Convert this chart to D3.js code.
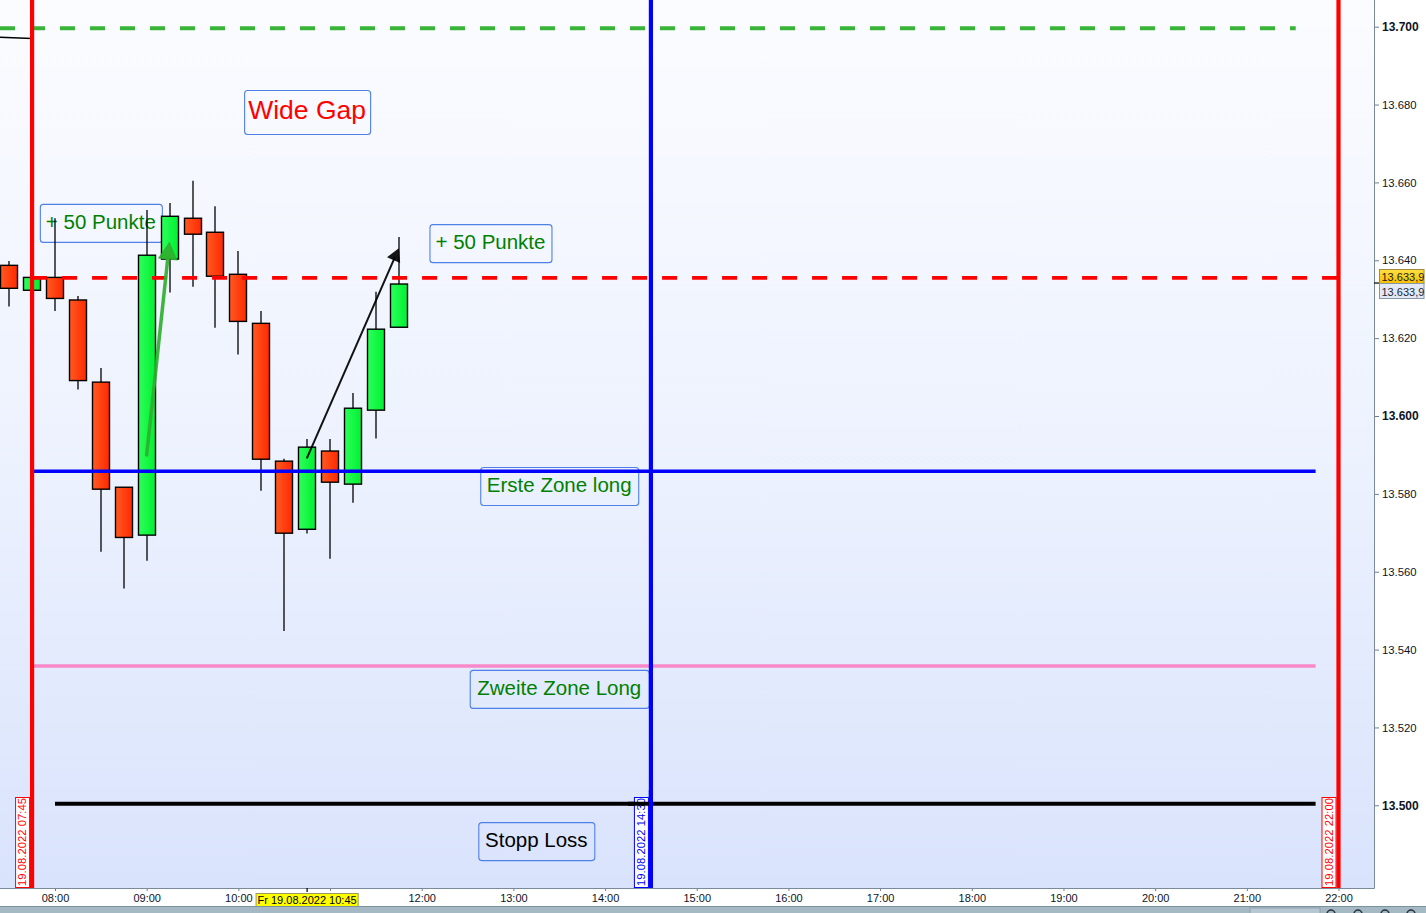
<!DOCTYPE html>
<html><head><meta charset="utf-8">
<script src="https://cdn.jsdelivr.net/npm/d3@7"></script>
<style>
html,body{margin:0;padding:0;background:#fff;overflow:hidden}
svg{display:block;font-family:"Liberation Sans",Arial,sans-serif}
</style></head><body>
<svg id="c" width="1426" height="913"></svg>
<script>
// ---- data ----
const times  = ["07:30","07:45","08:00","08:15","08:30","08:45","09:00","09:15","09:30","09:45","10:00","10:15","10:30","10:45","11:00","11:15","11:30","11:45"];
const opens  = [13638.7,13632.3,13635.6,13629.8,13608.7,13581.7,13569.4,13640.3,13650.8,13647.2,13636.4,13623.8,13588.4,13570.9,13591.0,13582.5,13601.5,13622.8];
const highs  = [13639.8,13636.0,13650.8,13630.8,13612.3,13581.7,13652.9,13654.7,13660.4,13653.9,13642.4,13627.0,13589.0,13594.1,13594.1,13605.9,13631.9,13646.0];
const lows   = [13628.1,13632.0,13627.0,13606.8,13565.1,13555.7,13562.8,13631.7,13633.2,13622.7,13615.8,13580.8,13544.8,13569.8,13563.3,13577.7,13594.2,13622.8];
const closes = [13632.8,13635.6,13630.2,13609.1,13581.2,13568.8,13641.3,13651.3,13646.7,13635.9,13624.3,13588.9,13569.9,13592.0,13583.0,13602.0,13622.3,13633.9];

const priceTicks = [13500,13520,13540,13560,13580,13600,13620,13640,13660,13680,13700];
const timeTicks  = ["08:00","09:00","10:00","11:00","12:00","13:00","14:00","15:00","16:00","17:00","18:00","19:00","20:00","21:00","22:00"];

const levels = [
  {name:"gap",   value:13699.6, from:"07:24", to:"21:32", color:"#38b438", dash:"15,15", w:3.8},
  {name:"close", value:13635.5, from:"07:45", to:"22:00", color:"#ff0000", dash:"15,15", w:3.8},
  {name:"zone1", value:13585.8, from:"07:45", to:"21:45", color:"#0000ff", dash:null,   w:3.6},
  {name:"zone2", value:13535.8, from:"07:45", to:"21:45", color:"#f988c8", dash:null,   w:3.6},
  {name:"stop",  value:13500.4, from:"08:00", to:"21:45", color:"#000000", dash:null,   w:4}
];
const vlines = [
  {time:"07:45", color:"#ff0000", label:"19.08.2022 07:45"},
  {time:"14:30", color:"#0000ff", label:"19.08.2022 14:30"},
  {time:"22:00", color:"#ff0000", label:"19.08.2022 22:00"}
];
const notes = [
  {text:"Wide Gap",          time:"10:45", value:13678.1, color:"#ff0000", size:26.5, boxW:126, boxH:44},
  {text:"+ 50 Punkte",       time:"08:30", value:13649.6, color:"#008000", size:20.5, boxW:122, boxH:38},
  {text:"+ 50 Punkte",       time:"12:45", value:13644.4, color:"#008000", size:20.5, boxW:122, boxH:38},
  {text:"Erste Zone long",   time:"13:30", value:13582.0, color:"#008000", size:20.5, boxW:158, boxH:38},
  {text:"Zweite Zone Long",  time:"13:30", value:13529.9, color:"#008000", size:20.5, boxW:179, boxH:38},
  {text:"Stopp Loss",        time:"13:15", value:13490.8, color:"#000000", size:20.5, boxW:116, boxH:38}
];
const arrows = [
  {t0:"09:00", v0:13590.0, t1:"09:15", v1:13644.8, color:"#2fb02f", w:3.5, head:18},
  {t0:"10:45", v0:13589.3, t1:"11:45", v1:13643.1, color:"#000000", w:2,   head:13}
];
const trendSeg = {t0:"07:24", v0:13697.3, t1:"07:45", v1:13697.0};
const lastPrice = 13633.9;
const crossTime = "10:45";

// ---- setup ----
const W = 1426, H = 913, plotR = 1374, plotB = 888;
const T = s => { const [h,m] = s.split(":").map(Number); return new Date(2022,7,19,h,m); };
const x = d3.scaleTime().domain([T("08:00"), T("22:00")]).range([55, 1338.5]);
const y = d3.scaleLinear().domain([13500, 13700]).range([805.3, 26.7]);
const candleW = 17;

const svg = d3.select("#c");
const defs = svg.append("defs");
const bg = defs.append("linearGradient").attr("id","bg").attr("x1",0).attr("y1",0).attr("x2",0).attr("y2",1);
bg.append("stop").attr("offset","0%").attr("stop-color","#fbfcff");
bg.append("stop").attr("offset","50%").attr("stop-color","#edf2fe");
bg.append("stop").attr("offset","100%").attr("stop-color","#d9e3fc");
const gr = defs.append("linearGradient").attr("id","gUp");
gr.append("stop").attr("offset","0%").attr("stop-color","#2dff5a");
gr.append("stop").attr("offset","100%").attr("stop-color","#00f032");
const rd = defs.append("linearGradient").attr("id","gDn");
rd.append("stop").attr("offset","0%").attr("stop-color","#ff5a22");
rd.append("stop").attr("offset","100%").attr("stop-color","#ff2800");
const yl = defs.append("linearGradient").attr("id","gYel").attr("x1",0).attr("y1",0).attr("x2",0).attr("y2",1);
yl.append("stop").attr("offset","0%").attr("stop-color","#ffe040");
yl.append("stop").attr("offset","100%").attr("stop-color","#f5c000");
defs.append("clipPath").attr("id","clip").append("rect").attr("x",0).attr("y",0).attr("width",plotR).attr("height",plotB);

svg.append("rect").attr("width",W).attr("height",H).attr("fill","#ffffff");
svg.append("rect").attr("x",0).attr("y",0).attr("width",plotR).attr("height",plotB).attr("fill","url(#bg)");

const plot = svg.append("g").attr("clip-path","url(#clip)");

// annotation boxes (behind candles)
const noteG = plot.append("g");
notes.forEach(n => {
  const cx = x(T(n.time)), cy = y(n.value);
  noteG.append("rect").attr("x", cx - n.boxW/2 + 0.5).attr("y", cy - n.boxH/2 + 0.5)
    .attr("width", n.boxW).attr("height", n.boxH).attr("rx",3)
    .attr("fill","none").attr("stroke","#4f80e8").attr("stroke-width",1.1);
  noteG.append("text").attr("x", cx).attr("y", cy - 1.5)
    .attr("text-anchor","middle").attr("dominant-baseline","central")
    .attr("font-size", n.size).attr("fill", n.color).text(n.text);
});

// candles
const cg = plot.append("g");
times.forEach((tm,i) => {
  const cx = Math.round(x(T(tm))) ;
  const up = closes[i] >= opens[i];
  cg.append("line").attr("x1",cx).attr("x2",cx).attr("y1",y(highs[i])).attr("y2",y(lows[i]))
    .attr("stroke","#000").attr("stroke-width",1.3);
  const top = y(Math.max(opens[i],closes[i])), bot = y(Math.min(opens[i],closes[i]));
  cg.append("rect").attr("x",cx - candleW/2).attr("y",top).attr("width",candleW).attr("height",Math.max(1,bot-top))
    .attr("fill", up ? "url(#gUp)" : "url(#gDn)").attr("stroke","#000").attr("stroke-width",1.4);
});

// trend segment top-left
plot.append("line").attr("x1",x(T(trendSeg.t0))).attr("y1",y(trendSeg.v0))
  .attr("x2",x(T(trendSeg.t1))).attr("y2",y(trendSeg.v1)).attr("stroke","#000").attr("stroke-width",1.5);

// horizontal levels
levels.forEach(l => {
  plot.append("line").attr("x1",x(T(l.from))).attr("x2",x(T(l.to))).attr("y1",y(l.value)).attr("y2",y(l.value))
    .attr("stroke",l.color).attr("stroke-width",l.w).attr("stroke-dasharray",l.dash);
});

// vertical lines with labels
vlines.forEach(v => {
  const vx = x(T(v.time));
  const lg = svg.append("g");
  lg.append("rect").attr("x",vx-16.5).attr("y",797.5).attr("width",14).attr("height",90)
    .attr("fill","#ffffff").attr("stroke",v.color).attr("stroke-width",1);
  lg.append("text").attr("transform",`translate(${vx-6},886) rotate(-90)`)
    .attr("font-size",11.3).attr("fill",v.color).text(v.label);
  plot.append("line").attr("x1",vx).attr("x2",vx).attr("y1",0).attr("y2",plotB)
    .attr("stroke",v.color).attr("stroke-width",4.2);
});
// stop line redrawn over the 14:30 label box
const stop = levels.find(l=>l.name==="stop");
svg.append("line").attr("x1",x(T("14:15"))).attr("x2",x(T("14:30"))).attr("y1",y(stop.value)).attr("y2",y(stop.value))
  .attr("stroke","#000").attr("stroke-width",stop.w);
svg.append("line").attr("x1",x(T("14:30"))).attr("x2",x(T("14:30"))).attr("y1",790).attr("y2",plotB)
  .attr("stroke","#0000ff").attr("stroke-width",4.2);

// arrows
arrows.forEach(a => {
  const x0 = x(T(a.t0)), y0 = y(a.v0), x1 = x(T(a.t1)), y1 = y(a.v1);
  const ang = Math.atan2(y1-y0, x1-x0);
  const hl = a.head, hw = a.head*0.55;
  const bx = x1 - hl*Math.cos(ang), by = y1 - hl*Math.sin(ang);
  plot.append("line").attr("x1",x0).attr("y1",y0).attr("x2",bx+2*Math.cos(ang)).attr("y2",by+2*Math.sin(ang))
    .attr("stroke",a.color).attr("stroke-width",a.w).attr("stroke-linecap","round").attr("opacity",0.92);
  const p = [[x1,y1],[bx + hw*Math.sin(ang), by - hw*Math.cos(ang)],[bx - hw*Math.sin(ang), by + hw*Math.cos(ang)]];
  plot.append("polygon").attr("points",p.map(q=>q.join(",")).join(" ")).attr("fill",a.color).attr("opacity",0.92);
});

// ---- axes ----
const fmtP = v => d3.format(",")(v).replace(/,/g,".");
const yAxis = d3.axisRight(y).tickValues(priceTicks).tickSize(5).tickPadding(3).tickFormat(fmtP);
const ya = svg.append("g").attr("transform",`translate(${plotR},0)`).call(yAxis);
ya.select(".domain").remove();
ya.selectAll(".tick line").attr("stroke","#6d7f8e");
ya.selectAll(".tick text").attr("font-family","Liberation Sans, Arial, sans-serif").attr("fill","#0c1426")
  .attr("font-size", d => d % 100 === 0 ? 12 : 11.3).attr("font-weight", d => d % 100 === 0 ? "bold" : "normal");
svg.append("line").attr("x1",plotR+0.5).attr("x2",plotR+0.5).attr("y1",0).attr("y2",plotB+0.5).attr("stroke","#7a8a98").attr("stroke-width",1);

const hidden = "11:00"; // label covered by the crosshair time box
const xAxis = d3.axisBottom(x).tickValues(timeTicks.map(T)).tickSize(3).tickPadding(3)
  .tickFormat(d => { const s = d3.timeFormat("%H:%M")(d); return s === hidden ? "" : s; });
const xa = svg.append("g").attr("transform",`translate(0,${plotB})`).call(xAxis);
xa.select(".domain").remove();
xa.selectAll(".tick line").attr("stroke","#6d7f8e");
xa.selectAll(".tick text").attr("font-family","Liberation Sans, Arial, sans-serif").attr("font-size",11).attr("fill","#0c1426");
svg.append("line").attr("x1",0).attr("x2",plotR+0.5).attr("y1",plotB+0.5).attr("y2",plotB+0.5).attr("stroke","#7a8a98").attr("stroke-width",1);

// crosshair time marker
const cxm = x(T(crossTime));
svg.append("line").attr("x1",cxm).attr("x2",cxm).attr("y1",plotB).attr("y2",plotB+4).attr("stroke","#000").attr("stroke-width",1.2);
const ct = svg.append("text").attr("x",cxm).attr("y",900).attr("text-anchor","middle").attr("dominant-baseline","central")
  .attr("font-size",11).attr("fill","#000").text("Fr 19.08.2022 10:45");
const cbb = ct.node().getBBox();
svg.insert("rect", () => ct.node()).attr("x",cbb.x-1.5).attr("y",893.5).attr("width",cbb.width+3).attr("height",13)
  .attr("fill","#ffff00").attr("stroke","#9a9a60").attr("stroke-width",1);

// price markers
const py = y(lastPrice);
svg.append("line").attr("x1",plotR).attr("x2",plotR+6).attr("y1",py-1).attr("y2",py-1).attr("stroke","#000").attr("stroke-width",1.2);
svg.append("rect").attr("x",1379.5).attr("y",269.5).attr("width",44.5).attr("height",14).attr("fill","url(#gYel)").attr("stroke","#a08a40").attr("stroke-width",1);
svg.append("text").attr("x",1381.5).attr("y",277).attr("dominant-baseline","central").attr("font-size",11).attr("fill","#202020").text("13.633,9");
svg.append("rect").attr("x",1379.5).attr("y",283.5).attr("width",44.5).attr("height",15).attr("fill","#e2e9f4").attr("stroke","#8696a8").attr("stroke-width",1);
svg.append("text").attr("x",1381.5).attr("y",291.5).attr("dominant-baseline","central").attr("font-size",11).attr("fill","#202838").text("13.633,9");

// bottom strip
svg.append("rect").attr("x",0).attr("y",906).attr("width",W).attr("height",7).attr("fill","#a5b9c5");
svg.append("line").attr("x1",0).attr("x2",W).attr("y1",906.5).attr("y2",906.5).attr("stroke","#7d929f");
svg.append("rect").attr("x",1250).attr("y",908).attr("width",70).attr("height",6).attr("fill","#b8c8d2").attr("stroke","#8ea2ae");
[1331,1358,1385,1411].forEach(cx => svg.append("circle").attr("cx",cx).attr("cy",914).attr("r",4).attr("fill","none").attr("stroke","#2a3440").attr("stroke-width",1.5));
</script>
</body></html>
